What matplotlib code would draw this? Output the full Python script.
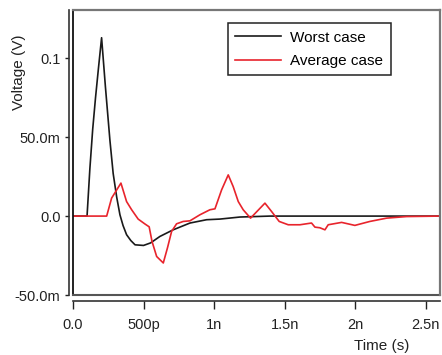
import matplotlib
matplotlib.use("Agg")
import matplotlib.pyplot as plt

plt.rcParams['font.family'] = ['Liberation Sans', 'DejaVu Sans']

# data (time in ps, voltage in mV)
#---------------------------------------------------------------------------
t_worst = [0, 100, 120, 140, 160, 180, 203, 230, 262, 285, 310, 333, 355, 380,
           410, 440, 500, 550, 616, 710, 829, 947, 1041, 1183, 1395, 2600]
v_worst = [0, 0, 30, 55, 75, 93, 113, 82, 48, 27, 12, 0.8, -6, -11.8,
           -15.5, -18.2, -18.6, -17, -12.9, -8.7, -4.4, -2.3, -1.9, -0.6, 0, 0]

t_avg = [0, 239, 274, 340, 380, 416, 462, 510, 540, 560, 593, 640, 670, 699,
         734, 781, 829, 899, 970, 1006, 1053, 1100, 1135, 1171, 1206, 1258,
         1360, 1407, 1461, 1525, 1608, 1690, 1714, 1749, 1785, 1808, 1903,
         1997, 2103, 2222, 2363, 2600]
v_avg = [0, 0, 11.4, 20.9, 9.2, 4, -1.9, -5, -6.8, -16, -25.6, -29.7, -20, -9.7,
         -4.9, -3.4, -3, 0.8, 4, 4.6, 16.6, 26.1, 18.7, 9.2, 4, -1.3,
         8.2, 2.9, -3.4, -5.5, -5.5, -4.4, -7, -7.4, -8.7, -5.5, -4,
         -5.9, -3.4, -1.3, -0.3, 0]

x_ticks = [0, 500, 1000, 1500, 2000, 2500]
x_tick_labels = ['0.0', '500p', '1n', '1.5n', '2n', '2.5n']
y_ticks = [-50, 0, 50, 100]
y_tick_labels = ['-50.0m', '0.0', '50.0m', '0.1']


# plot
#---------------------------------------------------------------------------
fig = plt.figure(figsize=(4.42, 3.55), dpi=100)
ax = fig.add_axes([0.165, 0.169, 0.8305, 0.803])

ax.plot(t_worst, v_worst, color='#1a1a1a', lw=1.2, label='Worst case')
ax.plot(t_avg, v_avg, color='#e8242c', lw=1.2, label='Average case')

ax.set_xlim(0, 2600)
ax.set_ylim(-50, 130.6)

ax.set_xticks(x_ticks)
ax.set_xticklabels(x_tick_labels)
ax.set_yticks(y_ticks)
ax.set_yticklabels(y_tick_labels)
ax.tick_params(axis='both', labelsize=10.5, direction='out', colors='#222222')
ax.tick_params(axis='x', length=6, width=1, pad=6.5)
ax.tick_params(axis='y', length=3, width=1, pad=3)

# offset axes + box
ax.spines['left'].set_position(('outward', 3))
ax.spines['bottom'].set_position(('outward', 4))
for s in ['left', 'bottom']:
    ax.spines[s].set_color('#333333')
    ax.spines[s].set_linewidth(1.2)
for s in ['top', 'right']:
    ax.spines[s].set_color('#777777')
    ax.spines[s].set_linewidth(1.6)
ax.plot([0, 0], [0, 1], transform=ax.transAxes, color='#111111', lw=1.3, clip_on=False)
ax.plot([0, 1], [0, 0], transform=ax.transAxes, color='#555555', lw=1.5, clip_on=False)

ax.set_ylabel('Voltage (V)', fontsize=11, color='#222222')
ax.yaxis.set_label_coords(-0.128, 0.78)
ax.set_xlabel('Time (s)', fontsize=11, color='#222222')
ax.xaxis.set_label_coords(0.842, -0.155)

leg = ax.legend(loc='upper left', bbox_to_anchor=(0.422, 0.954), fontsize=11,
                handlelength=3.0, handletextpad=0.6, fancybox=False,
                edgecolor='#222222', framealpha=1, borderpad=0.5,
                labelspacing=0.6, borderaxespad=0)
leg.get_frame().set_linewidth(1.1)

fig.savefig('out.png', dpi=100)
